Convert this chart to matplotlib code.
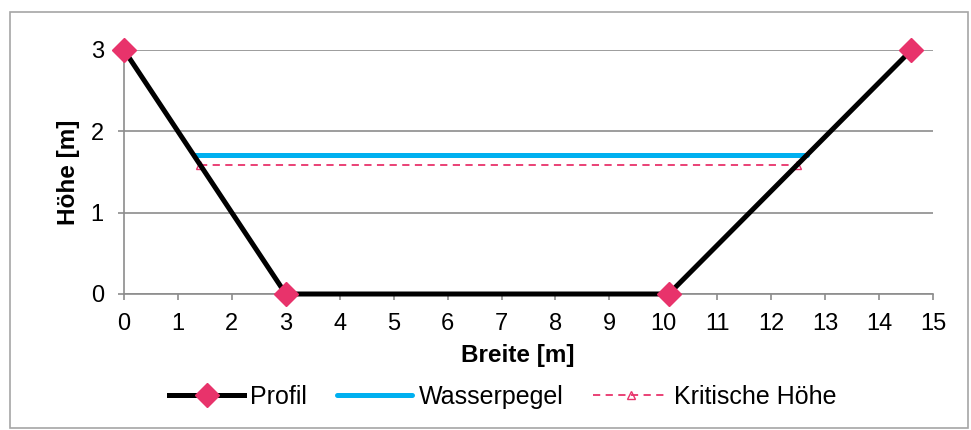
import matplotlib
matplotlib.use('Agg')
import matplotlib.pyplot as plt
from matplotlib.patches import Rectangle

plt.rcParams['font.family'] = ['Liberation Sans', 'DejaVu Sans']

# Querschnitt
profil_x = [0, 3, 10.1, 14.6]
profil_y = [3, 0, 0, 3]
wasser_x = [1.29, 12.665]
wasser_y = [1.71, 1.71]
krit_x = [1.41, 12.485]
krit_y = [1.59, 1.59]

fig = plt.figure(figsize=(9.71, 4.30), dpi=100)
fig.patches.append(Rectangle((10 / 971, 2 / 430), 958 / 971, 416 / 430, transform=fig.transFigure,
                             fill=False, edgecolor='#a6a6a6', linewidth=1.2))
ax = fig.add_axes([124 / 971, 1 - 294 / 430, 809 / 971, 244 / 430])

ax.plot(profil_x, profil_y, color='black', linewidth=3.6, marker='D', markersize=12,
        markerfacecolor='#e8336b', markeredgecolor='#e8336b', label='Profil', zorder=3,
        clip_on=False)
ax.plot(wasser_x, wasser_y, color='#00b0f0', linewidth=3.6, solid_capstyle='round',
        label='Wasserpegel', zorder=2)
ax.plot(krit_x, krit_y, color='#e8336b', linewidth=1.3, linestyle=(0, (4, 3)), marker='^',
        markersize=6, markerfacecolor='none', markeredgecolor='#e8336b',
        label='Kritische Höhe', zorder=2)

ax.set_xlim(0, 15)
ax.set_ylim(0, 3)
ax.set_xticks(range(16))
ax.set_yticks([0, 1, 2, 3])
ax.grid(axis='y', color='#8c8c8c', linewidth=1.2)
ax.set_axisbelow(True)
for s in ['top', 'right']:
    ax.spines[s].set_visible(False)
for s in ['left', 'bottom']:
    ax.spines[s].set_color('#8c8c8c')
    ax.spines[s].set_linewidth(1.2)
ax.tick_params(axis='both', colors='#8c8c8c', labelcolor='black', labelsize=17, length=4.5, width=1.2)
ax.tick_params(axis='y', pad=10)
ax.tick_params(axis='x', pad=9)
ax.set_xlabel('Breite [m]', fontsize=17.5, fontweight='bold')
ax.xaxis.set_label_coords(0.487, -0.205, transform=ax.transAxes)
ax.xaxis.label.set_va('top')
ax.set_ylabel('Höhe [m]', fontsize=17.5, fontweight='bold', labelpad=8)

fig.legend(loc='center', bbox_to_anchor=(503 / 971, 1 - 397 / 430), ncol=3, frameon=False,
           fontsize=18, handlelength=3.0, columnspacing=1.2, handletextpad=0.25)

fig.savefig('out.png', dpi=100)
